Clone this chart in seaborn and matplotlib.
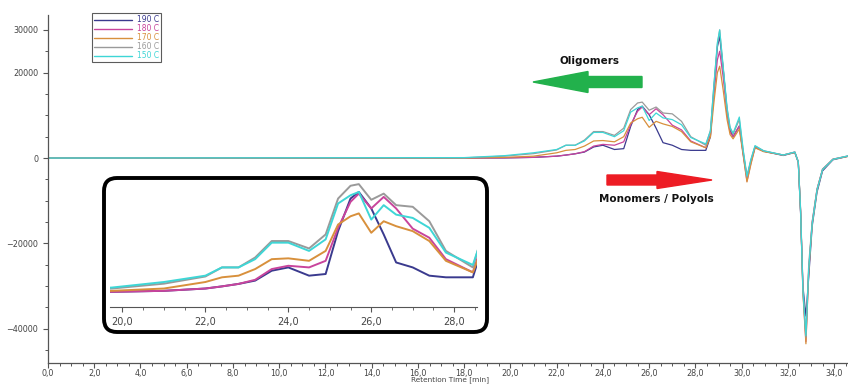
import numpy as np
import pandas as pd
import matplotlib
matplotlib.use("Agg")
import matplotlib.pyplot as plt
import seaborn as sns
from matplotlib.patches import FancyBboxPatch, FancyArrow
from matplotlib.transforms import IdentityTransform
from matplotlib.ticker import MultipleLocator, FuncFormatter, FixedLocator
from matplotlib.lines import Line2D

sns.set_style("white")
plt.rcParams["font.family"] = ["DejaVu Sans"]

# retention time [min]
time = [0, 18, 19.75, 21.0, 22.0, 22.4, 22.8, 23.2, 23.6, 24.0, 24.5, 24.9, 25.2, 25.5,
        25.7, 26.0, 26.3, 26.6, 27.0, 27.4, 27.8, 28.45, 28.65, 28.8, 28.95, 29.05, 29.2,
        29.37, 29.5, 29.63, 29.9, 30.07, 30.23, 30.4, 30.58, 30.95, 31.8, 32.3, 32.45,
        32.55, 32.65, 32.78, 32.9, 33.05, 33.26, 33.5, 33.95, 34.6]

s190 = [0, 0, 40, 160, 440, 700, 1000, 1400, 2600, 3000, 2000, 2200, 7400, 11350,
        12150, 10150, 7000, 3600, 3000, 2000, 1800, 1800, 5000, 16000, 26000, 28500, 21000,
        11000, 6500, 5000, 7500, 1000, -4500, -800, 2600, 1600, 600, 1300, -1000,
        -13000, -30000, -37000, -28000, -16000, -8000, -3000, -400, 400]
s180 = [0, 0, 40, 160, 440, 700, 1000, 1500, 2800, 3200, 3000, 3800, 7800, 10950,
        11950, 10150, 11550, 10150, 7700, 6600, 4000, 2400, 5500, 15000, 23000, 25000, 19000,
        10500, 6000, 5000, 7500, 800, -5400, -1200, 2500, 1600, 700, 1400, -900,
        -12500, -31000, -43000, -26500, -15000, -7300, -2600, -250, 450]
s170 = [0, 0, 160, 440, 1230, 1800, 2000, 2800, 4000, 4100, 3800, 5000, 8200, 9200,
        9550, 7200, 8600, 8000, 7400, 6200, 3800, 2400, 5000, 13000, 20000, 21500, 16000,
        9000, 5500, 4500, 6800, 500, -5600, -1500, 2400, 1500, 700, 1300, -900,
        -12500, -31500, -43500, -26500, -15500, -7500, -2700, -300, 400]
s160 = [0, 50, 440, 1030, 1900, 3000, 3000, 4200, 6200, 6200, 5300, 7000, 11350, 12900,
        13100, 11200, 11950, 10550, 10350, 8600, 5000, 3000, 6500, 17000, 26500, 30000, 21000,
        11500, 7000, 5600, 9000, 1500, -4500, -500, 2800, 1700, 700, 1400, -900,
        -12000, -30000, -42000, -25000, -15000, -7300, -2600, -300, 500]
s150 = [0, 100, 560, 1230, 2000, 3000, 3000, 4000, 6000, 6000, 5000, 6400, 10750, 11750,
        12150, 8800, 10550, 9400, 9000, 7800, 4800, 3300, 6300, 17000, 27000, 30000, 21500,
        11800, 7200, 5800, 9600, 1800, -4200, -300, 2900, 1700, 700, 1400, -900,
        -12500, -31000, -41600, -26000, -15500, -7500, -2700, -300, 500]

labels = ["190 C", "180 C", "170 C", "160 C", "150 C"]
colors = ["#3a3a8e", "#c8449c", "#d8903c", "#9a9a9a", "#3ed6d6"]

rows = []
for lab, vals in zip(labels, [s190, s180, s170, s160, s150]):
    for t, v in zip(time, vals):
        rows.append((lab, t, v))
df = pd.DataFrame(rows, columns=["temp", "time", "signal"])
pal = dict(zip(labels, colors))

fig = plt.figure(figsize=(8.48, 3.85), dpi=100)
ax = fig.add_axes([48 / 848, 22 / 385, 800 / 848, 348 / 385])

sns.lineplot(data=df, x="time", y="signal", hue="temp", hue_order=labels, palette=pal,
             linewidth=0.9, legend=False, ax=ax, sort=False)

ax.set_xlim(0, 34.6)
ax.set_ylim(-48000, 33500)
sns.despine(ax=ax)
for sp in ["left", "bottom"]:
    ax.spines[sp].set_color("#555555")
    ax.spines[sp].set_linewidth(0.9)

comma = FuncFormatter(lambda v, p: f"{v:.1f}".replace(".", ","))
ax.xaxis.set_major_locator(MultipleLocator(2))
ax.xaxis.set_minor_locator(MultipleLocator(0.5))
ax.xaxis.set_major_formatter(comma)
ax.yaxis.set_major_locator(FixedLocator([-40000, -20000, 0, 20000, 30000]))
ax.yaxis.set_minor_locator(MultipleLocator(5000))
ax.tick_params(axis="both", which="both", direction="out", colors="#555555",
               labelsize=5.8, labelcolor="#444444", bottom=True, left=True)
ax.tick_params(axis="x", which="major", pad=0.8)
ax.tick_params(which="major", length=3.5, width=0.8)
ax.tick_params(which="minor", length=2.5, width=0.7)
ax.set_xlabel("Retention Time [min]", fontsize=5.3, color="#444444")
ax.xaxis.set_label_coords(0.5025, -0.039)
ax.set_ylabel("")

handles = [Line2D([], [], color=c, lw=1.0) for c in colors]
leg = ax.legend(handles, labels, loc="upper left", bbox_to_anchor=(44 / 800, 1.006),
                fontsize=5.5, handlelength=5.0, handletextpad=0.6, borderpad=0.3,
                labelspacing=0.0, frameon=True, fancybox=False, edgecolor="#333333",
                borderaxespad=0)
for txt, c in zip(leg.get_texts(), colors):
    txt.set_color(c)
leg.get_frame().set_linewidth(0.8)

# arrows and labels
fig.patches.append(FancyArrow(642, 303, -109, 0, width=11, head_width=21, head_length=55,
                              length_includes_head=True, color="#22b14c",
                              transform=IdentityTransform(), figure=fig))
fig.patches.append(FancyArrow(607, 205, 105, 0, width=10, head_width=17, head_length=55,
                              length_includes_head=True, color="#ed1c24",
                              transform=IdentityTransform(), figure=fig))
fig.text(589 / 848, 1 - 61 / 385, "Oligomers", fontsize=7.5, fontweight="bold",
         ha="center", va="center", color="#111111")
fig.text(656 / 848, 1 - 199 / 385, "Monomers / Polyols", fontsize=7.5, fontweight="bold",
         ha="center", va="center", color="#111111")

# inset frame
box = FancyBboxPatch((104, 53), 383, 154, boxstyle="round,pad=0,rounding_size=13",
                     transform=IdentityTransform(), facecolor="white", edgecolor="black",
                     linewidth=2.8, zorder=5, figure=fig)
fig.patches.append(box)

ins = fig.add_axes([110 / 848, 78 / 385, 367 / 848, 127 / 385], zorder=6)
ins.patch.set_alpha(0)
sns.lineplot(data=df, x="time", y="signal", hue="temp", hue_order=labels, palette=pal,
             linewidth=1.4, legend=False, ax=ins, sort=False)
ins.set_xlim(19.7, 28.55)
ins.set_ylim(-1800, 13600)
sns.despine(ax=ins, left=True)
ins.spines["bottom"].set_color("#555555")
ins.set_yticks([])
ins.xaxis.set_major_locator(MultipleLocator(2))
ins.xaxis.set_minor_locator(MultipleLocator(0.5))
ins.xaxis.set_major_formatter(comma)
ins.tick_params(axis="x", which="both", direction="out", colors="#555555", bottom=True,
                labelsize=7, labelcolor="#444444")
ins.tick_params(axis="x", which="major", length=3.5)
ins.tick_params(axis="x", which="minor", length=2)
ins.set_xlabel("")
ins.set_ylabel("")

fig.savefig("out.png", dpi=100)
